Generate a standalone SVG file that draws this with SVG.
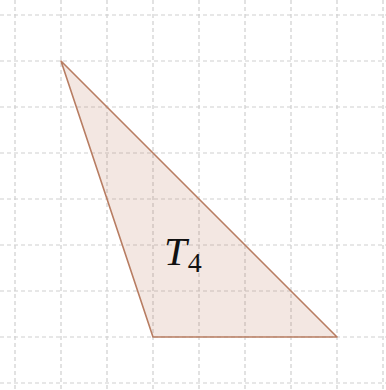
<svg xmlns="http://www.w3.org/2000/svg" width="386" height="390" viewBox="0 0 386 390">
<style>
.g{stroke:#cfcfcf;stroke-width:1.2;stroke-dasharray:4 3;fill:none}
</style>
<rect width="386" height="390" fill="#ffffff"/>
<g id="grid">
<path class="g" d="M15 0V390M61 0V390M107 0V390M153 0V390M199 0V390M245 0V390M291 0V390M337 0V390M383 0V390"/>
<path class="g" d="M0 15H386M0 61H386M0 107H386M0 153H386M0 199H386M0 245H386M0 291H386M0 337H386M0 383H386"/>
</g>
<g id="triangle">
<polygon points="61,61 153,337 337,337" fill="#b5674a" fill-opacity="0.16" stroke="#b87d62" stroke-width="1.6" stroke-linejoin="round"/>
<text x="164" y="265" font-family="Liberation Serif, serif" font-style="italic" font-size="41" fill="#111">T<tspan font-style="normal" font-size="28" dx="1" dy="7">4</tspan></text>
</g>
</svg>
